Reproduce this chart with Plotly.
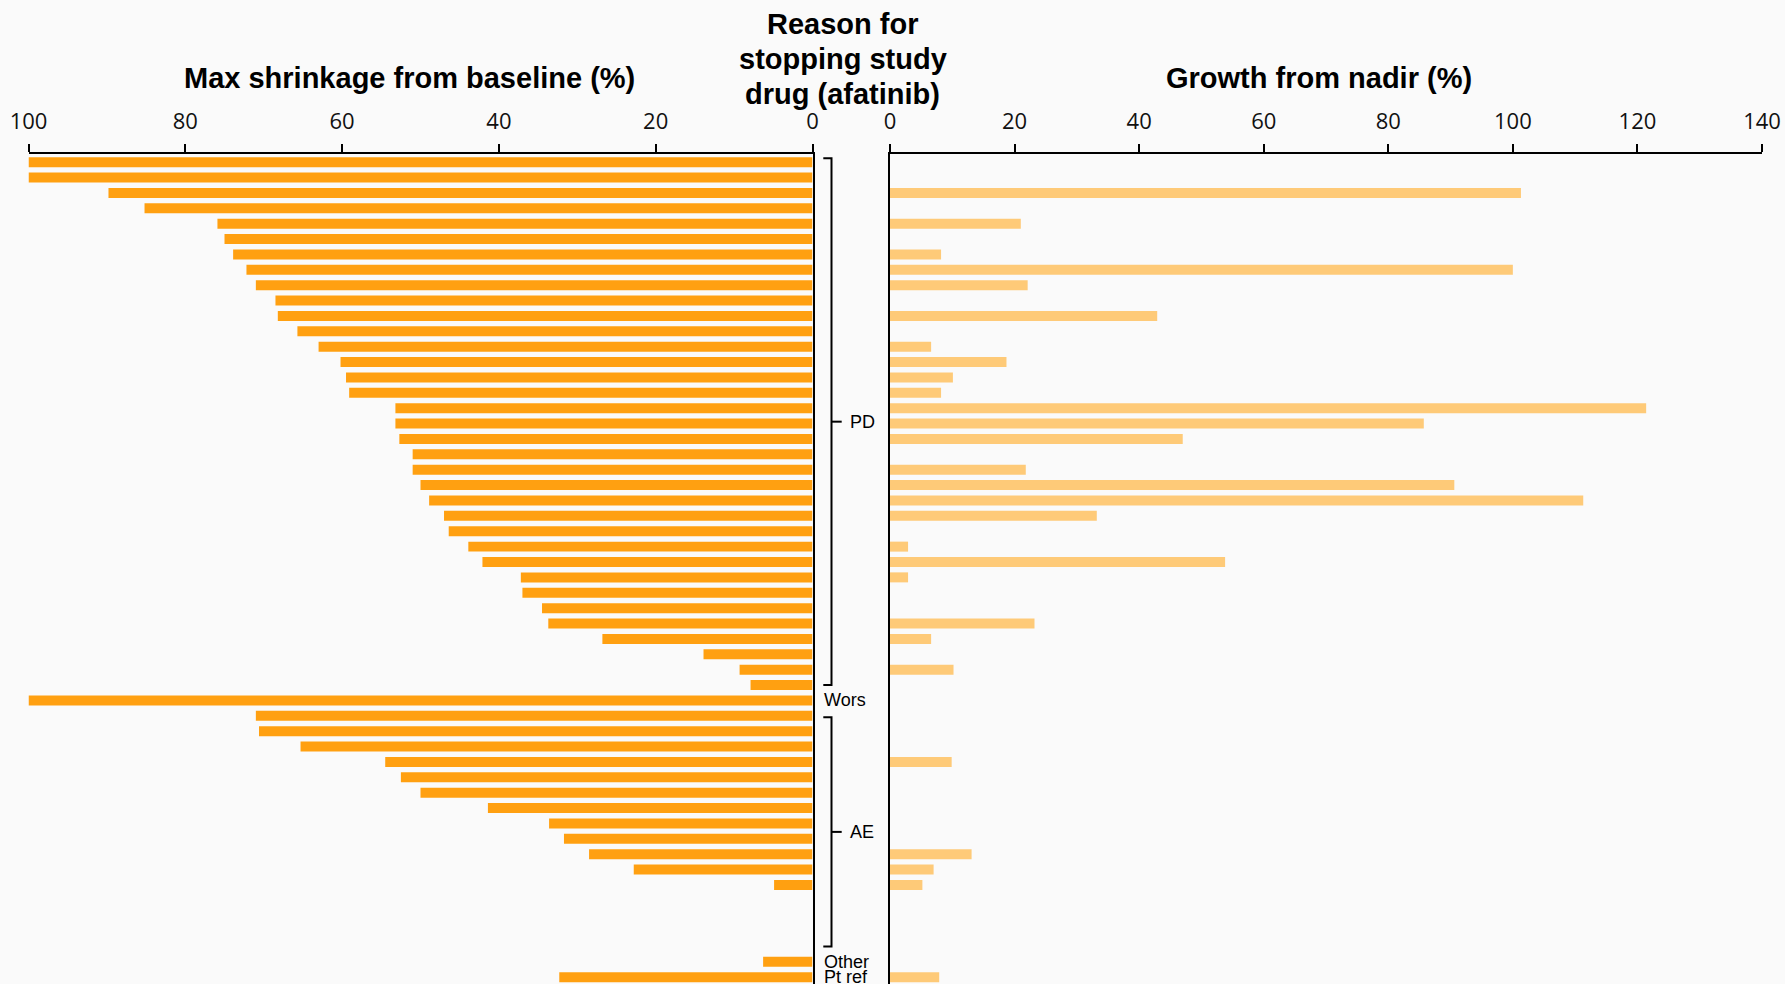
import plotly.graph_objects as go

W, H = 1785, 984

# Reason for stopping study drug, one entry per patient (top to bottom)
reasons = ["PD"] * 35 + ["Wors"] + ["AE"] * 16 + ["Other", "Pt ref"]

# Maximum tumour shrinkage from baseline (%), None = not assessed
shrinkage = [
    100, 100, 89.8, 85.2, 75.9, 75.0, 73.9, 72.2, 71.0, 68.5,
    68.2, 65.7, 63.0, 60.2, 59.5, 59.1, 53.2, 53.2, 52.7, 51.0,
    51.0, 50.0, 48.9, 47.0, 46.4, 43.9, 42.1, 37.2, 37.0, 34.5,
    33.7, 26.8, 13.9, 9.3, 7.9,
    100,
    71.0, 70.6, 65.3, 54.5, 52.5, 50.0, 41.4, 33.6, 31.7, 28.5,
    22.8, 4.9, None, None, None, None,
    6.3, 32.3,
]

# Growth from nadir (%), None = no growth recorded
growth = [
    None, None, 101.3, None, 21.0, None, 8.2, 100.0, 22.1, None,
    42.9, None, 6.6, 18.7, 10.1, 8.2, 121.4, 85.7, 47.0, None,
    21.8, 90.6, 111.3, 33.2, None, 2.9, 53.8, 2.9, None, None,
    23.2, 6.6, None, 10.2, None,
    None,
    None, None, None, 9.9, None, None, None, None, None, 13.1,
    7.0, 5.2, None, None, None, None,
    None, 7.9,
]

left_ticks = [0, 20, 40, 60, 80, 100]
right_ticks = [0, 20, 40, 60, 80, 100, 120, 140]

rows = list(range(len(reasons)))

ORANGE = "#FFA011"
LIGHT_ORANGE = "#FECA78"
BG = "#FAFAFA"
TOP = 154  # pixel position of the top axis line


def px(x):
    return x / W


def py(y):
    return (H - y) / (H - TOP)


fig = go.Figure()
fig.add_trace(go.Bar(
    y=rows, x=shrinkage, orientation="h", xaxis="x", yaxis="y",
    marker=dict(color=ORANGE, line=dict(width=0)), width=0.65,
    showlegend=False,
))
fig.add_trace(go.Bar(
    y=rows, x=growth, orientation="h", xaxis="x2", yaxis="y2",
    marker=dict(color=LIGHT_ORANGE, line=dict(width=0)), width=0.65,
    showlegend=False,
))

tickfont = dict(family="Open Sans, Arial, sans-serif", size=22, color="#111111")
xcommon = dict(
    side="top", showline=True, linecolor="black", linewidth=2,
    ticks="outside", ticklen=8, tickwidth=2, tickcolor="black",
    showgrid=False, zeroline=False, tickfont=tickfont, fixedrange=True,
    ticklabelstandoff=6, automargin=False,
)
ycommon = dict(
    domain=[0, 1], range=[53.44, -0.53], showline=True, linecolor="black",
    linewidth=2, ticks="", showticklabels=False, showgrid=False,
    zeroline=False, fixedrange=True, automargin=False,
)

fig.update_layout(
    width=W, height=H,
    margin=dict(l=0, r=0, t=TOP, b=0, pad=0, autoexpand=False),
    paper_bgcolor=BG, plot_bgcolor=BG,
    barmode="overlay",
    xaxis=dict(domain=[px(28.5), px(812.5)], range=[100, 0], anchor="y",
               tickvals=left_ticks, **xcommon),
    yaxis=dict(anchor="x", side="right", **ycommon),
    xaxis2=dict(domain=[px(890), px(1762)], range=[0, 140], anchor="y2",
                tickvals=right_ticks, **xcommon),
    yaxis2=dict(anchor="x2", side="left", **ycommon),
)

title_font = dict(family="Liberation Sans, Arial, sans-serif", size=29, color="black")
annotations = [
    dict(text="<b>Max shrinkage from baseline (%)</b>", x=px(409), y=py(78),
         xref="paper", yref="paper", xanchor="center", yanchor="middle",
         showarrow=False, font=title_font),
    dict(text="<b>Growth from nadir (%)</b>", x=px(1319), y=py(78),
         xref="paper", yref="paper", xanchor="center", yanchor="middle",
         showarrow=False, font=title_font),
]
for line, yy in zip(["Reason for", "stopping study", "drug (afatinib)"], [24, 59, 94]):
    annotations.append(dict(
        text=f"<b>{line}</b>", x=px(842.5), y=py(yy), xref="paper", yref="paper",
        xanchor="center", yanchor="middle", showarrow=False, font=title_font,
    ))

# Group consecutive rows by reason: brackets for multi-row groups, plain labels otherwise
label_font = dict(family="Liberation Sans, Arial, sans-serif", size=18, color="black")
shapes = []
groups = []
start = 0
for i in range(1, len(reasons) + 1):
    if i == len(reasons) or reasons[i] != reasons[start]:
        groups.append((reasons[start], start, i - 1))
        start = i

BX, HOOK, MID = 831.5, 823.3, 841.7
for name, a, b in groups:
    if a == b:
        annotations.append(dict(
            text=name, x=px(822), y=a, xref="paper", yref="y",
            xanchor="left", yanchor="middle", showarrow=False, font=label_font,
        ))
    else:
        top = a - 0.25 if a == 0 else a + 0.1
        mid = (top + b) / 2
        shapes.append(dict(
            type="path", xref="paper", yref="y",
            path=f"M {px(HOOK)},{top} L {px(BX)},{top} L {px(BX)},{b} L {px(HOOK)},{b}",
            line=dict(color="black", width=2),
        ))
        shapes.append(dict(
            type="line", xref="paper", yref="y",
            x0=px(BX), x1=px(MID), y0=mid, y1=mid,
            line=dict(color="black", width=2),
        ))
        annotations.append(dict(
            text=name, x=px(848), y=mid, xref="paper", yref="y",
            xanchor="left", yanchor="middle", showarrow=False, font=label_font,
        ))

fig.update_layout(annotations=annotations, shapes=shapes)

fig.write_html("out.html")
